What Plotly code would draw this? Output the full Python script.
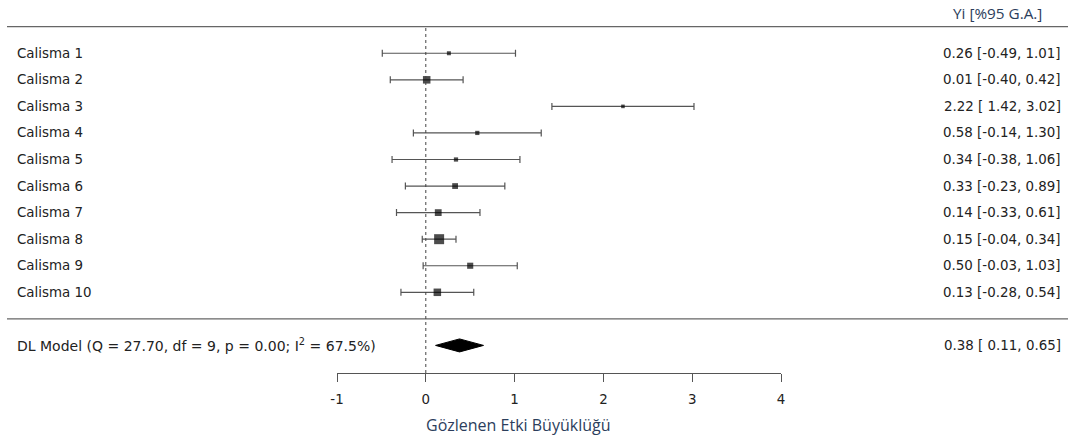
import numpy as np
import plotly.graph_objects as go

# Study data: observed effects with 95% confidence limits
studies = ["Calisma 1", "Calisma 2", "Calisma 3", "Calisma 4", "Calisma 5",
           "Calisma 6", "Calisma 7", "Calisma 8", "Calisma 9", "Calisma 10"]
yi = [0.26, 0.01, 2.22, 0.58, 0.34, 0.33, 0.14, 0.15, 0.50, 0.13]
ci_lb = [-0.49, -0.40, 1.42, -0.14, -0.38, -0.23, -0.33, -0.04, -0.03, -0.28]
ci_ub = [1.01, 0.42, 3.02, 1.30, 1.06, 0.89, 0.61, 0.34, 1.03, 0.54]

# DerSimonian-Laird random-effects summary
model_label = "DL Model (Q = 27.70, df = 9, p = 0.00; I<sup>2</sup> = 67.5%)"
summary_est = 0.38
summary_lb = 0.11
summary_ub = 0.65

x_ticks = [-1, 0, 1, 2, 3, 4]
header = "Yi [%95 G.A.]"
x_title = "Gözlenen Etki Büyüklüğü"

W, H = 1068, 439
FONT = "DejaVu Sans"
TITLE_FONT = "Open Sans"
FS = 13.4
TXT = "#222222"
BLUE = "#2c3e5c"

k = len(studies)
rows = list(range(k, 0, -1))  # Calisma 1 on top
summary_row = -1

# pixel geometry of the rows (row r -> pixel y)
ROW_PX = 26.56
ROW0_PX = 318.86
def row_from_px(p):
    return (ROW0_PX - p) / ROW_PX

y_range = [row_from_px(H), row_from_px(0)]
axis_px = 373
axis_row = row_from_px(axis_px)

# random-effects weights -> square sizes
yi_a = np.array(yi)
se = (np.array(ci_ub) - np.array(ci_lb)) / (2 * 1.96)
vi = se ** 2
wi = 1 / vi
Q = np.sum(wi * (yi_a - np.sum(wi * yi_a) / np.sum(wi)) ** 2)
C = np.sum(wi) - np.sum(wi ** 2) / np.sum(wi)
tau2 = max(0.0, (Q - (k - 1)) / C)
w_re = 1 / (vi + tau2)
psize = (w_re - w_re.min()) / (w_re.max() - w_re.min())
sizes = 3.6 + 6.4 * psize

fig = go.Figure()

fig.add_trace(go.Scatter(
    x=yi, y=rows, mode="markers",
    marker=dict(symbol="square", color="black", size=sizes, line=dict(width=0)),
    error_x=dict(type="data", symmetric=False,
                 array=[u - y for u, y in zip(ci_ub, yi)],
                 arrayminus=[y - l for y, l in zip(yi, ci_lb)],
                 color="#555555", thickness=1.2, width=3.5),
    cliponaxis=False, hoverinfo="skip", showlegend=False,
))

# summary diamond
dh = 0.245
fig.add_trace(go.Scatter(
    x=[summary_lb, summary_est, summary_ub, summary_est, summary_lb],
    y=[summary_row, summary_row + dh, summary_row, summary_row - dh, summary_row],
    mode="lines", fill="toself", fillcolor="black",
    line=dict(color="black", width=1),
    cliponaxis=False, hoverinfo="skip", showlegend=False,
))

# horizontal separators spanning the figure
for r in (k + 1, 0):
    fig.add_shape(type="line", xref="paper", yref="y",
                  x0=7 / W, x1=1, y0=r, y1=r,
                  line=dict(color="#666666", width=1.3))

# reference line at zero
fig.add_shape(type="line", xref="x", yref="y", x0=0, x1=0,
              y0=axis_row, y1=k + 1,
              line=dict(color="#444444", width=1, dash="dot"))

LEFT_X = 14.5 / W
RIGHT_X = 1063 / W

ann = []
for s, r, e, l, u in zip(studies, rows, yi, ci_lb, ci_ub):
    ann.append(dict(x=LEFT_X, xref="paper", y=r, yref="y", text=s,
                    xanchor="left", yanchor="middle", showarrow=False,
                    font=dict(family=FONT, size=FS, color=TXT)))
    lb_txt = f"{l:.2f}" if l < 0 else f" {l:.2f}"
    ann.append(dict(x=RIGHT_X, xref="paper", y=r, yref="y",
                    text=f"{e:.2f} [{lb_txt}, {u:.2f}]",
                    xanchor="right", yanchor="middle", showarrow=False,
                    font=dict(family=FONT, size=FS, color=TXT)))

ann.append(dict(x=LEFT_X, xref="paper", y=summary_row, yref="y", text=model_label,
                xanchor="left", yanchor="middle", showarrow=False,
                font=dict(family=FONT, size=14, color=TXT)))
ann.append(dict(x=RIGHT_X, xref="paper", y=summary_row, yref="y",
                text=f"{summary_est:.2f} [ {summary_lb:.2f}, {summary_ub:.2f}]",
                xanchor="right", yanchor="middle", showarrow=False,
                font=dict(family=FONT, size=FS, color=TXT)))
ann.append(dict(x=1044 / W, xref="paper", y=row_from_px(13), yref="y", text=header,
                xanchor="right", yanchor="middle", showarrow=False,
                font=dict(family=TITLE_FONT, size=15.3, color=BLUE)))
ann.append(dict(x=517.5 / W, xref="paper", y=row_from_px(425), yref="y", text=x_title,
                xanchor="center", yanchor="middle", showarrow=False,
                font=dict(family=TITLE_FONT, size=16, color=BLUE)))

fig.update_layout(
    width=W, height=H, autosize=False,
    margin=dict(l=0, r=0, t=0, b=0, pad=0, autoexpand=False),
    paper_bgcolor="white", plot_bgcolor="rgba(0,0,0,0)",
    annotations=ann,
    xaxis=dict(domain=[337 / W, 781 / W], range=[-1, 4],
               anchor="free", position=(H - axis_px) / H,
               showline=True, linecolor="#555555", linewidth=1.2,
               ticks="outside", ticklen=8, tickcolor="#555555", tickwidth=1.2,
               ticklabelstandoff=6,
               tickvals=x_ticks, ticktext=[str(t) for t in x_ticks],
               tickfont=dict(family=FONT, size=FS, color=TXT),
               showgrid=False, zeroline=False, fixedrange=True, automargin=False),
    yaxis=dict(domain=[0, 1], range=y_range, visible=False,
               showgrid=False, zeroline=False, fixedrange=True, automargin=False),
)

fig.write_html("out.html")
